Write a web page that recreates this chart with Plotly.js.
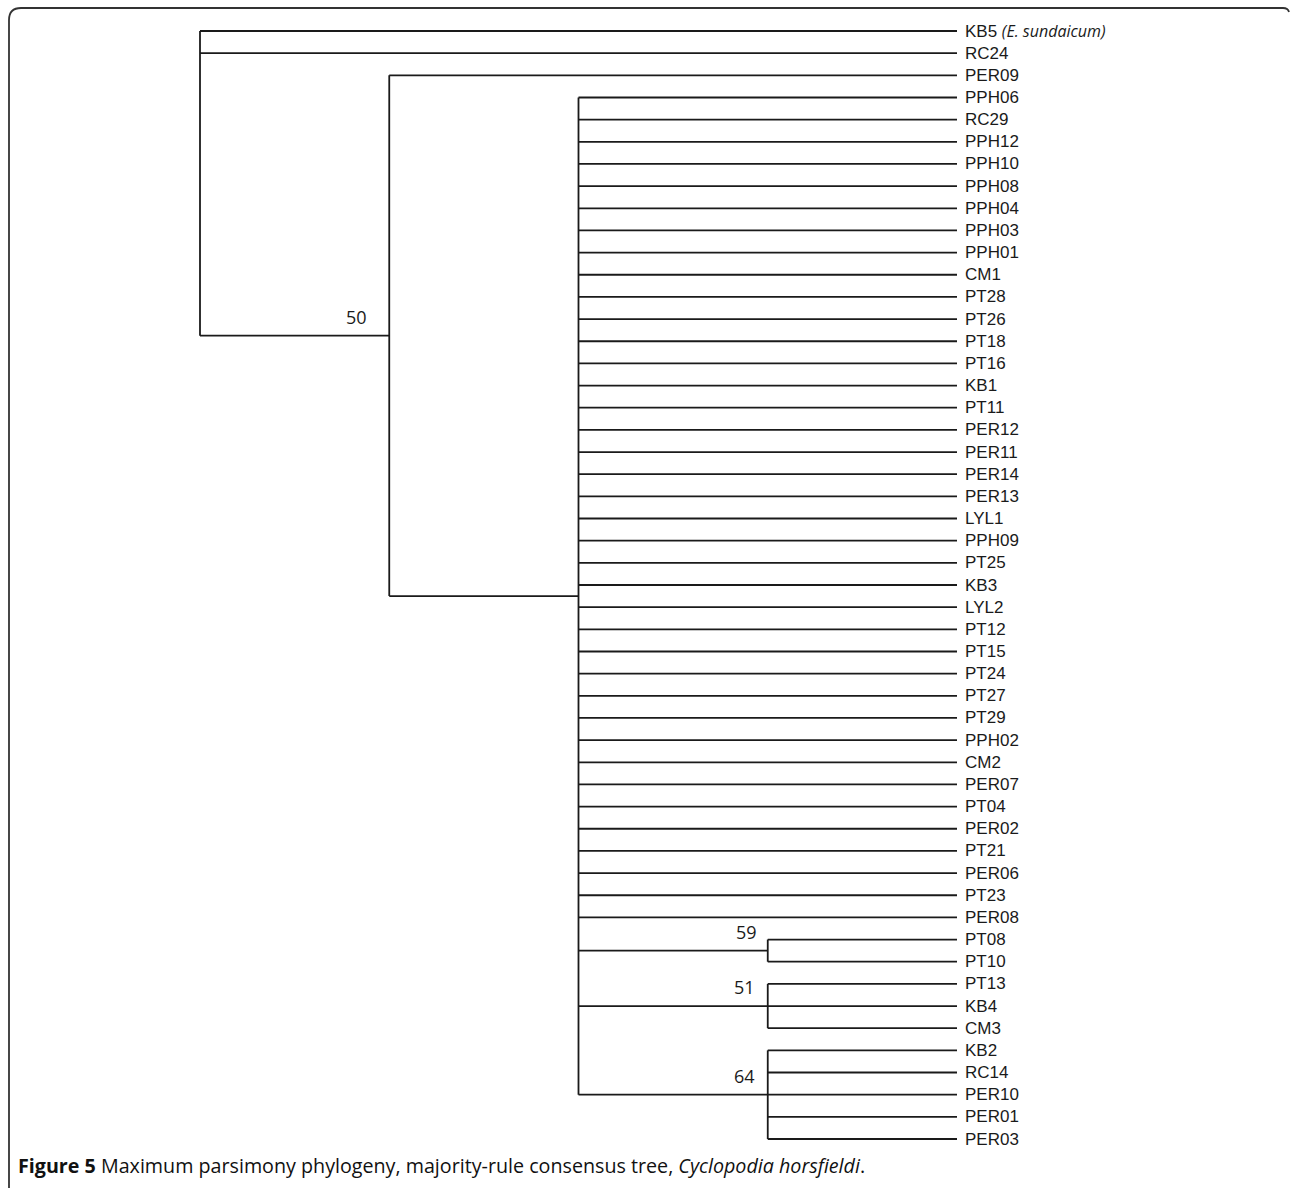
<!DOCTYPE html>
<html>
<head>
<meta charset="utf-8">
<script src="https://cdn.plot.ly/plotly-3.0.1.min.js"></script>
<style>html,body{margin:0;padding:0;background:#fff;}#chart{width:1290px;height:1188px;}</style>
</head>
<body>
<div id="chart"></div>
<script>
// ---- Tree data (majority-rule consensus topology) ----
const clade59 = ["PT08", "PT10"];
const clade51 = ["PT13", "KB4", "CM3"];
const clade64 = ["KB2", "RC14", "PER10", "PER01", "PER03"];
const polytomyLeaves = ["PPH06", "RC29", "PPH12", "PPH10", "PPH08", "PPH04", "PPH03", "PPH01",
  "CM1", "PT28", "PT26", "PT18", "PT16", "KB1", "PT11", "PER12", "PER11", "PER14", "PER13",
  "LYL1", "PPH09", "PT25", "KB3", "LYL2", "PT12", "PT15", "PT24", "PT27", "PT29", "PPH02",
  "CM2", "PER07", "PT04", "PER02", "PT21", "PER06", "PT23", "PER08"];
const polytomy = polytomyLeaves.concat([clade59, clade51, clade64]);
const clade50 = ["PER09", polytomy];
const rootClade = ["KB5", "RC24", clade50];
const outgroupNote = {"KB5": "(E. sundaicum)"};
const supportClades = [clade50, clade59, clade51, clade64];
const supportValues = [50, 59, 51, 64];
const captionBold = "Figure 5";
const captionText = " Maximum parsimony phylogeny, majority-rule consensus tree, ";
const captionItalic = "Cyclopodia horsfieldi";

// ---- Layout of the tree (cladogram) ----
let leafCounter = 0;
const nodes = new Map();
function depthOf(n) { return Array.isArray(n) ? 1 + Math.max(...n.map(depthOf)) : 0; }
const maxDepth = depthOf(rootClade);
function place(node, depth) {
  if (!Array.isArray(node)) {
    return {x: maxDepth, y: leafCounter++, leaf: true, name: node};
  }
  const kids = node.map(c => place(c, depth + 1));
  const info = {x: depth, y: (kids[0].y + kids[kids.length - 1].y) / 2, kids: kids, leaf: false};
  nodes.set(node, info);
  return info;
}
const rootInfo = place(rootClade, 0);

const xs = [], ys = [];
const leafInfos = [];
function collect(info) {
  if (info.leaf) { leafInfos.push(info); return; }
  xs.push(info.x, info.x, null);
  ys.push(info.kids[0].y, info.kids[info.kids.length - 1].y, null);
  info.kids.forEach(k => {
    xs.push(info.x, k.x, null);
    ys.push(k.y, k.y, null);
    collect(k);
  });
}
collect(rootInfo);

// pixel geometry
const W = 1290, H = 1188;
const x0px = 200, xStep = 189.25;
const y0px = 31, yStep = 22.16;
const xr = [-x0px / xStep, (W - x0px) / xStep];
const yr = [(H - y0px) / yStep, -y0px / yStep];
const px = v => v / W, py = v => 1 - v / H;

const lineColor = "#1a1a1a";
const annotations = [];
leafInfos.forEach(l => {
  let txt = l.name;
  if (outgroupNote[l.name]) {
    txt += ' <span style="font-family:\'Open Sans\';font-size:16px"><i>' + outgroupNote[l.name] + '</i></span>';
  }
  annotations.push({x: l.x, y: l.y, xref: "x", yref: "y", text: txt, showarrow: false,
    xanchor: "left", yanchor: "middle", xshift: 6, yshift: 0,
    font: {family: "Arial, 'Liberation Sans', sans-serif", size: 17, color: "#1a1a1a"}});
});
const supportShift = [-20, -9, -11, -11];
supportClades.forEach((c, i) => {
  const info = nodes.get(c);
  annotations.push({x: info.x, y: info.y, xref: "x", yref: "y", text: String(supportValues[i]),
    showarrow: false, xanchor: "right", yanchor: "bottom", xshift: supportShift[i], yshift: 5,
    font: {family: "Open Sans, sans-serif", size: 18, color: "#1a1a1a"}});
});
annotations.push({x: px(16), y: py(1165), xref: "paper", yref: "paper", xanchor: "left", yanchor: "middle",
  showarrow: false,
  text: "<b>" + captionBold + "</b>" + captionText + "<i>" + captionItalic + "</i>.",
  font: {family: "Open Sans, sans-serif", size: 19.7, color: "#111"}});

const framePath = "M " + px(9) + "," + py(1188) + " L " + px(9) + "," + py(20) +
  " Q " + px(9) + "," + py(8) + " " + px(21) + "," + py(8) +
  " L " + px(1283) + "," + py(8) + " Q " + px(1288) + "," + py(8) + " " + px(1289) + "," + py(12);

const data = [{x: xs, y: ys, type: "scatter", mode: "lines", hoverinfo: "skip",
  line: {color: lineColor, width: 1.8}, showlegend: false}];

const layout = {
  width: W, height: H, margin: {l: 0, r: 0, t: 0, b: 0, pad: 0},
  paper_bgcolor: "#fff", plot_bgcolor: "#fff", showlegend: false,
  xaxis: {range: xr, visible: false, showgrid: false, zeroline: false, fixedrange: true},
  yaxis: {range: yr, visible: false, showgrid: false, zeroline: false, fixedrange: true},
  annotations: annotations,
  shapes: [{type: "path", xref: "paper", yref: "paper", path: framePath,
    line: {color: "#333", width: 1.8}}]
};
Plotly.newPlot("chart", data, layout, {displayModeBar: false, staticPlot: true});
</script>
</body>
</html>
